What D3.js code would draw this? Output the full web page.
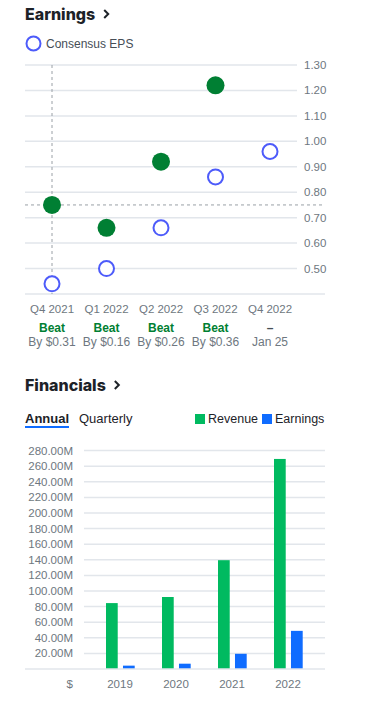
<!DOCTYPE html>
<html>
<head>
<meta charset="utf-8">
<script src="https://cdn.jsdelivr.net/npm/d3@7"></script>
<style>
  body { margin: 0; background: #fff; }
  svg { display: block; font-family: "Helvetica Neue", Helvetica, Arial, "Liberation Sans", sans-serif; }
</style>
</head>
<body>
<svg id="chart" width="365" height="712"></svg>
<script>
// Earnings data
const quarters = ["Q4 2021", "Q1 2022", "Q2 2022", "Q3 2022", "Q4 2022"];
const consensusEps = [0.44, 0.50, 0.66, 0.86, 0.96];
const actualEps = [0.75, 0.66, 0.92, 1.22, null];
const resultLabels = ["Beat", "Beat", "Beat", "Beat", "–"];
const resultDetails = ["By $0.31", "By $0.16", "By $0.26", "By $0.36", "Jan 25"];
const epsTicks = [0.5, 0.6, 0.7, 0.8, 0.9, 1.0, 1.1, 1.2, 1.3];

// Financials data (millions)
const years = ["2019", "2020", "2021", "2022"];
const revenue = [84.5, 92.3, 139.5, 269.3];
const earnings = [4.3, 6.8, 19.5, 48.9];
const finTicks = [20, 40, 60, 80, 100, 120, 140, 160, 180, 200, 220, 240, 260, 280];

const green = "#007f33";
const blueRing = "#4d5bfa";
const revColor = "#00ba60";
const earnColor = "#0f6cff";
const gridColor = "#e2e6eb";
const tickColor = "#6e7780";
const titleFont = "Inter, Roboto, sans-serif";

const svg = d3.select("#chart");

function drawTitle(text, y) {
  const t = svg.append("text")
    .attr("x", 25)
    .attr("y", y)
    .attr("font-family", titleFont)
    .attr("font-weight", 800)
    .attr("font-size", "16px")
    .attr("fill", "#1d2228")
    .text(text);
  const chevronX = 25 + t.node().getComputedTextLength() + 9;
  // chevron
  svg.append("path")
    .attr("d", `M${chevronX},${y - 10} l4,4 l-4,4`)
    .attr("fill", "none")
    .attr("stroke", "#1d2228")
    .attr("stroke-width", 2);
}

// ---------- Earnings ----------
drawTitle("Earnings", 20);

svg.append("circle")
  .attr("cx", 33.5)
  .attr("cy", 43.5)
  .attr("r", 7)
  .attr("fill", "none")
  .attr("stroke", blueRing)
  .attr("stroke-width", 2);

svg.append("text")
  .attr("x", 46)
  .attr("y", 48)
  .attr("font-size", "12px")
  .attr("fill", "#464e56")
  .text("Consensus EPS");

const xEps = d3.scalePoint().domain(quarters).range([52, 270]);
const yEps = d3.scaleLinear().domain([0.4, 1.3]).range([294, 65]);

// gridlines
svg.append("g")
  .selectAll("line")
  .data(epsTicks)
  .join("line")
  .attr("x1", 25)
  .attr("x2", 297)
  .attr("y1", d => yEps(d))
  .attr("y2", d => yEps(d))
  .attr("stroke", gridColor)
  .attr("stroke-width", 1.5);

svg.append("line")
  .attr("x1", 25).attr("x2", 325)
  .attr("y1", yEps(0.4)).attr("y2", yEps(0.4))
  .attr("stroke", gridColor)
  .attr("stroke-width", 1.5);

svg.append("g")
  .selectAll("text")
  .data(epsTicks)
  .join("text")
  .attr("x", 304)
  .attr("y", d => yEps(d) + 4)
  .attr("font-size", "11.5px")
  .attr("fill", tickColor)
  .text(d => d.toFixed(2));

// crosshair on first quarter
svg.append("line")
  .attr("x1", xEps(quarters[0])).attr("x2", xEps(quarters[0]))
  .attr("y1", yEps(1.3)).attr("y2", yEps(0.4))
  .attr("stroke", "#9aa0a6")
  .attr("stroke-dasharray", "3,3");

svg.append("line")
  .attr("x1", 25).attr("x2", 323)
  .attr("y1", yEps(actualEps[0])).attr("y2", yEps(actualEps[0]))
  .attr("stroke", "#9aa0a6")
  .attr("stroke-dasharray", "3,3");

// consensus rings
svg.append("g")
  .selectAll("circle")
  .data(quarters)
  .join("circle")
  .attr("cx", d => xEps(d))
  .attr("cy", (d, i) => yEps(consensusEps[i]))
  .attr("r", 7.5)
  .attr("fill", "#fff")
  .attr("stroke", blueRing)
  .attr("stroke-width", 2);

// actual dots
svg.append("g")
  .selectAll("circle")
  .data(quarters.filter((d, i) => actualEps[i] != null))
  .join("circle")
  .attr("cx", d => xEps(d))
  .attr("cy", (d, i) => yEps(actualEps[i]))
  .attr("r", 9)
  .attr("fill", green);

// x labels
const qLabels = svg.append("g")
  .selectAll("g")
  .data(quarters)
  .join("g")
  .attr("transform", d => `translate(${xEps(d)},0)`);

qLabels.append("text")
  .attr("y", 313)
  .attr("text-anchor", "middle")
  .attr("font-size", "11.5px")
  .attr("fill", tickColor)
  .text(d => d);

qLabels.append("text")
  .attr("y", 332)
  .attr("text-anchor", "middle")
  .attr("font-size", "12px")
  .attr("font-weight", "bold")
  .attr("fill", (d, i) => actualEps[i] != null ? green : "#464e56")
  .text((d, i) => resultLabels[i]);

qLabels.append("text")
  .attr("y", 346)
  .attr("text-anchor", "middle")
  .attr("font-size", "12px")
  .attr("fill", tickColor)
  .text((d, i) => resultDetails[i]);

// ---------- Financials ----------
drawTitle("Financials", 391);

svg.append("text")
  .attr("x", 25).attr("y", 423)
  .attr("font-size", "13px")
  .attr("font-weight", "bold")
  .attr("fill", "#1d2228")
  .text("Annual");

svg.append("rect")
  .attr("x", 25).attr("y", 426)
  .attr("width", 44).attr("height", 2)
  .attr("fill", earnColor);

svg.append("text")
  .attr("x", 79).attr("y", 423)
  .attr("font-size", "13px")
  .attr("fill", "#1d2228")
  .text("Quarterly");

const legend = [["Revenue", revColor, 195], ["Earnings", earnColor, 262]];
legend.forEach(([name, color, x]) => {
  svg.append("rect")
    .attr("x", x).attr("y", 414)
    .attr("width", 10).attr("height", 10)
    .attr("fill", color);
  svg.append("text")
    .attr("x", x + 13).attr("y", 423)
    .attr("font-size", "12.5px")
    .attr("fill", "#1d2228")
    .text(name);
});

const xFin = d3.scaleBand().domain(years).range([92, 316]);
const xSeries = d3.scaleBand().domain(["revenue", "earnings"]).range([14, 42.7]).paddingInner(0.31);
const yFin = d3.scaleLinear().domain([0, 280]).range([669, 450.6]);

svg.append("g")
  .selectAll("line")
  .data(finTicks)
  .join("line")
  .attr("x1", 84).attr("x2", 325)
  .attr("y1", d => yFin(d)).attr("y2", d => yFin(d))
  .attr("stroke", gridColor)
  .attr("stroke-width", 1.5);

svg.append("g")
  .selectAll("text")
  .data(finTicks)
  .join("text")
  .attr("x", 73)
  .attr("y", d => yFin(d) + 4)
  .attr("text-anchor", "end")
  .attr("font-size", "11.5px")
  .attr("fill", tickColor)
  .text(d => d.toFixed(2) + "M");

const groups = svg.append("g")
  .selectAll("g")
  .data(years)
  .join("g")
  .attr("transform", d => `translate(${xFin(d)},0)`);

groups.append("rect")
  .attr("x", xSeries("revenue"))
  .attr("width", xSeries.bandwidth())
  .attr("y", (d, i) => yFin(revenue[i]))
  .attr("height", (d, i) => yFin(0) - yFin(revenue[i]))
  .attr("fill", revColor);

groups.append("rect")
  .attr("x", xSeries("earnings"))
  .attr("width", xSeries.bandwidth())
  .attr("y", (d, i) => yFin(earnings[i]))
  .attr("height", (d, i) => yFin(0) - yFin(earnings[i]))
  .attr("fill", earnColor);

svg.append("line")
  .attr("x1", 25).attr("x2", 325)
  .attr("y1", yFin(0)).attr("y2", yFin(0))
  .attr("stroke", gridColor)
  .attr("stroke-width", 1.5);

groups.append("text")
  .attr("x", xFin.bandwidth() / 2)
  .attr("y", 688)
  .attr("text-anchor", "middle")
  .attr("font-size", "11.5px")
  .attr("fill", tickColor)
  .text(d => d);

svg.append("text")
  .attr("x", 73).attr("y", 688)
  .attr("text-anchor", "end")
  .attr("font-size", "11.5px")
  .attr("fill", tickColor)
  .text("$");
</script>
</body>
</html>
